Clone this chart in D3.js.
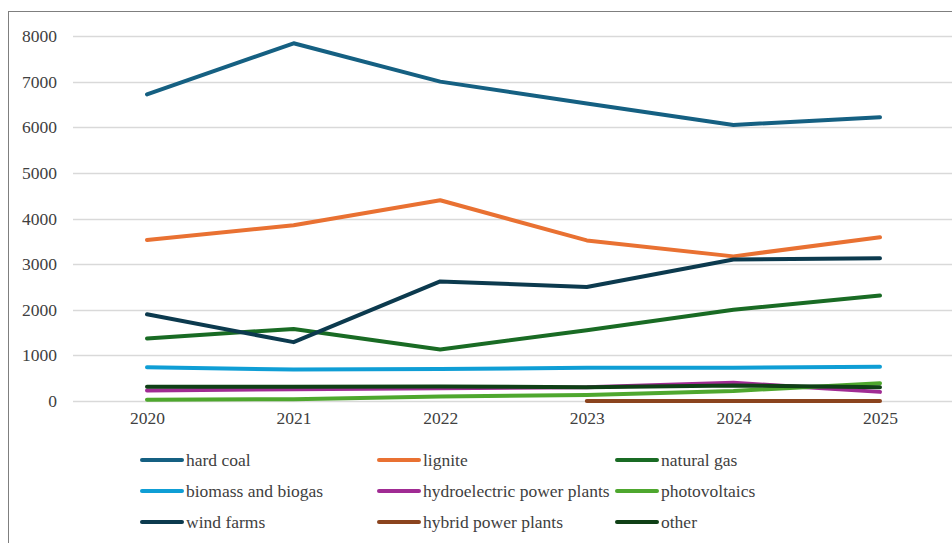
<!DOCTYPE html>
<html>
<head>
<meta charset="utf-8">
<script src="https://cdn.jsdelivr.net/npm/d3@7"></script>
<style>
  html, body { margin: 0; padding: 0; background: #fff; }
  svg { display: block; }
</style>
</head>
<body>
<svg id="chart" width="952" height="543" font-family="Liberation Serif, Tinos, Times New Roman, DejaVu Serif, serif"></svg>
<script>
const years = ["2020", "2021", "2022", "2023", "2024", "2025"];
const yTicks = [0, 1000, 2000, 3000, 4000, 5000, 6000, 7000, 8000];

const hardCoal     = [6720, 7840, 7000, 6520, 6050, 6220];
const lignite      = [3530, 3850, 4400, 3520, 3170, 3590];
const naturalGas   = [1370, 1580, 1130, 1550, 2000, 2310];
const biomass      = [740, 690, 700, 730, 730, 750];
const hydro        = [230, 260, 280, 300, 400, 200];
const photovoltaic = [30, 40, 100, 130, 220, 390];
const windFarms    = [1900, 1290, 2620, 2500, 3100, 3130];
const hybrid       = [null, null, null, 0, 0, 0];
const other        = [310, 310, 320, 300, 340, 300];

const seriesNames  = ["hard coal", "lignite", "natural gas", "biomass and biogas",
                      "hydroelectric power plants", "photovoltaics", "wind farms",
                      "hybrid power plants", "other"];
const seriesValues = [hardCoal, lignite, naturalGas, biomass, hydro, photovoltaic,
                      windFarms, hybrid, other];
const seriesColors = ["#156082", "#E97132", "#196B24", "#0F9ED5", "#A02B93",
                      "#4EA72E", "#0C3A4E", "#8B441E", "#0F4016"];

const FONT = "Liberation Serif, Tinos, Times New Roman, DejaVu Serif, serif";
const svg = d3.select("#chart");

// frame
svg.append("rect")
  .attr("x", 8.5).attr("y", 11.5).attr("width", 1000).attr("height", 600)
  .attr("fill", "none").attr("stroke", "#7f7f7f").attr("stroke-width", 1);

const x = d3.scalePoint().domain(years).range([147, 880]);
const y = d3.scaleLinear().domain([0, 8000]).range([401, 36]);

// gridlines
svg.append("g").selectAll("line").data(yTicks).join("line")
  .attr("x1", 73).attr("x2", 952)
  .attr("y1", d => Math.round(y(d)) + 0.5).attr("y2", d => Math.round(y(d)) + 0.5)
  .attr("stroke", "#d9d9d9").attr("stroke-width", 1.3);

// y axis labels
const yAxis = d3.axisLeft(y).tickValues(yTicks).tickSize(0).tickPadding(0).tickFormat(d3.format("d"));
const gy = svg.append("g").attr("transform", "translate(57,0)").call(yAxis)
  .attr("font-family", FONT).attr("font-size", 17.5);
gy.select(".domain").remove();
gy.selectAll("text").attr("fill", "#404040");

// x axis labels
const xAxis = d3.axisBottom(x).tickSize(0).tickPadding(0);
const gx = svg.append("g").attr("transform", "translate(0,412)").call(xAxis)
  .attr("font-family", FONT).attr("font-size", 17.5);
gx.select(".domain").remove();
gx.selectAll("text").attr("fill", "#404040");

// lines
const line = d3.line()
  .defined(d => d.v !== null)
  .x(d => x(d.year))
  .y(d => y(d.v));

seriesValues.forEach((vals, i) => {
  const pts = vals.map((v, j) => ({ year: years[j], v: v }));
  svg.append("path")
    .datum(pts)
    .attr("d", line)
    .attr("fill", "none")
    .attr("stroke", seriesColors[i])
    .attr("stroke-width", 4)
    .attr("stroke-linejoin", "round")
    .attr("stroke-linecap", "round");
});

// legend
const colX = [142, 379, 617];
const rowY = [460, 491, 522];
const leg = svg.append("g").attr("font-family", FONT).attr("font-size", 17.5);
seriesNames.forEach((name, i) => {
  const cx = colX[i % 3], cy = rowY[Math.floor(i / 3)];
  const g = leg.append("g");
  g.append("line")
    .attr("x1", cx).attr("x2", cx + 40)
    .attr("y1", cy).attr("y2", cy)
    .attr("stroke", seriesColors[i]).attr("stroke-width", 4)
    .attr("stroke-linecap", "round");
  g.append("text")
    .attr("x", cx + 44).attr("y", cy)
    .attr("dy", "0.33em")
    .attr("fill", "#404040")
    .text(name);
});
</script>
</body>
</html>
